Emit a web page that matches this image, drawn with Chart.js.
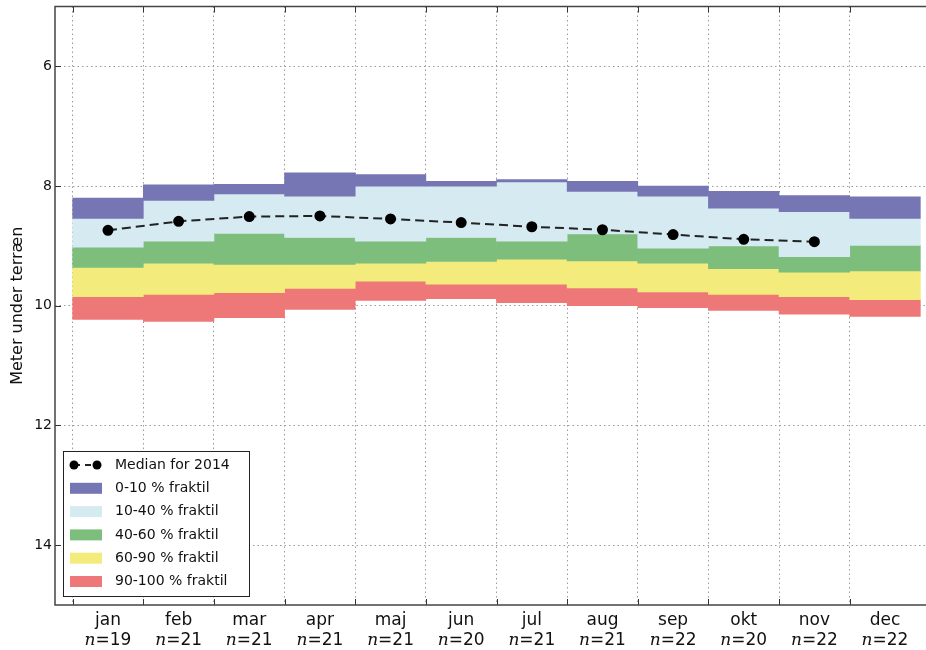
<!DOCTYPE html>
<html>
<head>
<meta charset="utf-8">
<script src="https://cdn.jsdelivr.net/npm/chart.js@4.4.0/dist/chart.umd.min.js"></script>
<style>
  html, body { margin: 0; padding: 0; background: #fff; overflow: hidden; }
  #wrap { width: 926px; height: 650px; overflow: hidden; }
  canvas { display: block; }
</style>
</head>
<body>
<div id="wrap"><canvas id="chart" width="960" height="650"></canvas></div>
<script>
// month categories and number of years per month
const months = ['jan', 'feb', 'mar', 'apr', 'maj', 'jun', 'jul', 'aug', 'sep', 'okt', 'nov', 'dec'];
const counts = [19, 21, 21, 21, 21, 20, 21, 21, 22, 20, 22, 22];

// fractile levels (meter under terræn)
const q0   = [8.20, 7.98, 7.97, 7.78, 7.81, 7.92, 7.89, 7.92, 8.00, 8.09, 8.16, 8.18];
const q10  = [8.54, 8.24, 8.13, 8.17, 8.00, 8.00, 7.93, 8.09, 8.17, 8.37, 8.43, 8.54];
const q40  = [9.02, 8.92, 8.79, 8.86, 8.92, 8.86, 8.92, 8.80, 9.04, 9.00, 9.18, 8.99];
const q60  = [9.36, 9.29, 9.31, 9.31, 9.29, 9.26, 9.22, 9.25, 9.29, 9.38, 9.44, 9.42];
const q90  = [9.85, 9.81, 9.78, 9.71, 9.59, 9.64, 9.64, 9.70, 9.77, 9.81, 9.85, 9.90];
const q100 = [10.23, 10.26, 10.20, 10.06, 9.91, 9.88, 9.95, 10.00, 10.03, 10.08, 10.14, 10.18];

// median for 2014 (no value for december)
const median2014 = [8.74, 8.59, 8.51, 8.50, 8.55, 8.61, 8.68, 8.73, 8.81, 8.89, 8.93, null];

const yTicks = [6, 8, 10, 12, 14];
const bandLabels = ['0-10 % fraktil', '10-40 % fraktil', '40-60 % fraktil', '60-90 % fraktil', '90-100 % fraktil'];
const bandColors = ['#7676b5', '#d5eaf1', '#7dbe7d', '#f3eb7b', '#ee7878'];

const FONT = '"DejaVu Sans", "Liberation Sans", sans-serif';
const bandEdges = [q0, q10, q40, q60, q90, q100];

// one floating bar per month for each band
const bandDatasets = bandLabels.map((label, b) => ({
  type: 'bar',
  label,
  data: months.map((m, i) => ({ x: i + 0.5, y: [bandEdges[b][i], bandEdges[b + 1][i]] })),
  backgroundColor: bandColors[b],
  borderWidth: 0,
  grouped: false,
  barPercentage: 1,
  categoryPercentage: 1,
  order: 2
}));

const medianDataset = {
  type: 'line',
  label: 'Median for 2014',
  data: months.map((m, i) => ({ x: i + 0.5, y: median2014[i] })),
  borderColor: '#222',
  borderWidth: 2,
  borderDash: [9, 5],
  pointRadius: 4.5,
  pointBackgroundColor: '#000',
  pointBorderColor: '#000',
  spanGaps: false,
  order: 1
};

// frame, inner ticks, month labels and legend box
const decorPlugin = {
  id: 'decor',
  afterDraw(chart) {
    const { ctx, chartArea: a, scales: { x, y } } = chart;
    ctx.save();

    // ticks pointing inwards
    ctx.strokeStyle = '#333';
    ctx.lineWidth = 1;
    ctx.beginPath();
    yTicks.forEach(v => {
      const py = Math.round(y.getPixelForValue(v)) + 0.5;
      ctx.moveTo(a.left, py); ctx.lineTo(a.left + 6, py);
    });
    for (let i = 0; i < months.length; i++) {
      const px = Math.round(x.getPixelForValue(i)) + 0.5;
      ctx.moveTo(px, a.bottom); ctx.lineTo(px, a.bottom - 6);
      ctx.moveTo(px, a.top); ctx.lineTo(px, a.top + 6);
    }
    ctx.stroke();

    // frame (right side lies past the visible edge)
    ctx.strokeStyle = '#444';
    ctx.lineWidth = 1.5;
    ctx.strokeRect(a.left, a.top, a.right - a.left, a.bottom - a.top);

    // month labels with n below
    ctx.fillStyle = '#111';
    ctx.textBaseline = 'alphabetic';
    months.forEach((m, i) => {
      const cx = x.getPixelForValue(i + 0.5);
      ctx.font = '17px ' + FONT;
      ctx.textAlign = 'center';
      ctx.fillText(m, cx, a.bottom + 20);

      const rest = '=' + counts[i];
      ctx.font = 'italic 17px "DejaVu Serif", serif';
      const wn = ctx.measureText('n').width;
      ctx.font = '17px ' + FONT;
      const wr = ctx.measureText(rest).width;
      let sx = cx - (wn + wr) / 2;
      ctx.textAlign = 'left';
      ctx.font = 'italic 17px "DejaVu Serif", serif';
      ctx.fillText('n', sx, a.bottom + 40);
      ctx.font = '17px ' + FONT;
      ctx.fillText(rest, sx + wn, a.bottom + 40);
    });

    // legend box in the lower left corner
    const lx = 63.5, ly = 451.5, lw = 186, lh = 145;
    ctx.fillStyle = '#fff';
    ctx.fillRect(lx, ly, lw, lh);
    ctx.strokeStyle = '#222';
    ctx.lineWidth = 1;
    ctx.strokeRect(lx, ly, lw, lh);

    const rowY = k => 465 + k * 23.3;
    ctx.font = '14px ' + FONT;
    ctx.textAlign = 'left';
    ctx.textBaseline = 'middle';

    // median marker
    ctx.strokeStyle = '#222';
    ctx.lineWidth = 2;
    ctx.setLineDash([6, 5]);
    ctx.beginPath();
    ctx.moveTo(74, rowY(0)); ctx.lineTo(97, rowY(0));
    ctx.stroke();
    ctx.setLineDash([]);
    ctx.fillStyle = '#000';
    [74, 97].forEach(px => {
      ctx.beginPath(); ctx.arc(px, rowY(0), 4.5, 0, Math.PI * 2); ctx.fill();
    });
    ctx.fillStyle = '#111';
    ctx.fillText(medianDataset.label, 115, rowY(0));

    bandLabels.forEach((label, b) => {
      const ry = rowY(b + 1);
      ctx.fillStyle = bandColors[b];
      ctx.fillRect(70, ry - 5.5, 32, 11);
      ctx.fillStyle = '#111';
      ctx.fillText(label, 115, ry);
    });

    ctx.restore();
  }
};

new Chart(document.getElementById('chart'), {
  type: 'bar',
  data: { datasets: [...bandDatasets, medianDataset] },
  options: {
    responsive: false,
    animation: false,
    layout: { padding: { top: 5, right: 22, bottom: 0, left: 0 } },
    plugins: { legend: { display: false }, tooltip: { enabled: false } },
    scales: {
      x: {
        type: 'linear',
        min: -0.25,
        max: 12.25,
        offset: false,
        z: 1,
        // grid lines on the month boundaries (none at the far right edge)
        afterBuildTicks: s => { s.ticks = months.map((m, i) => ({ value: i })); },
        afterFit: s => { s.height = 45; s.paddingLeft = 0; s.paddingRight = 0; },
        ticks: { display: false },
        grid: { color: '#9a9a9a', lineWidth: 1, drawTicks: false, offset: false },
        border: { display: false, dash: [1.5, 3] }
      },
      y: {
        reverse: true,
        min: 5,
        max: 15,
        z: 1,
        afterBuildTicks: s => { s.ticks = yTicks.map(v => ({ value: v })); },
        afterFit: s => { s.width = 55; s.paddingTop = 0; s.paddingBottom = 0; },
        ticks: { color: '#111', font: { family: FONT, size: 14 }, padding: 3 },
        grid: { color: '#9a9a9a', lineWidth: 1, drawTicks: false },
        border: { display: false, dash: [1.5, 3] },
        title: {
          display: true,
          text: 'Meter under terræn',
          color: '#111',
          font: { family: FONT, size: 16 },
          padding: { top: 8, bottom: 0 }
        }
      }
    }
  },
  plugins: [decorPlugin]
});
</script>
</body>
</html>
